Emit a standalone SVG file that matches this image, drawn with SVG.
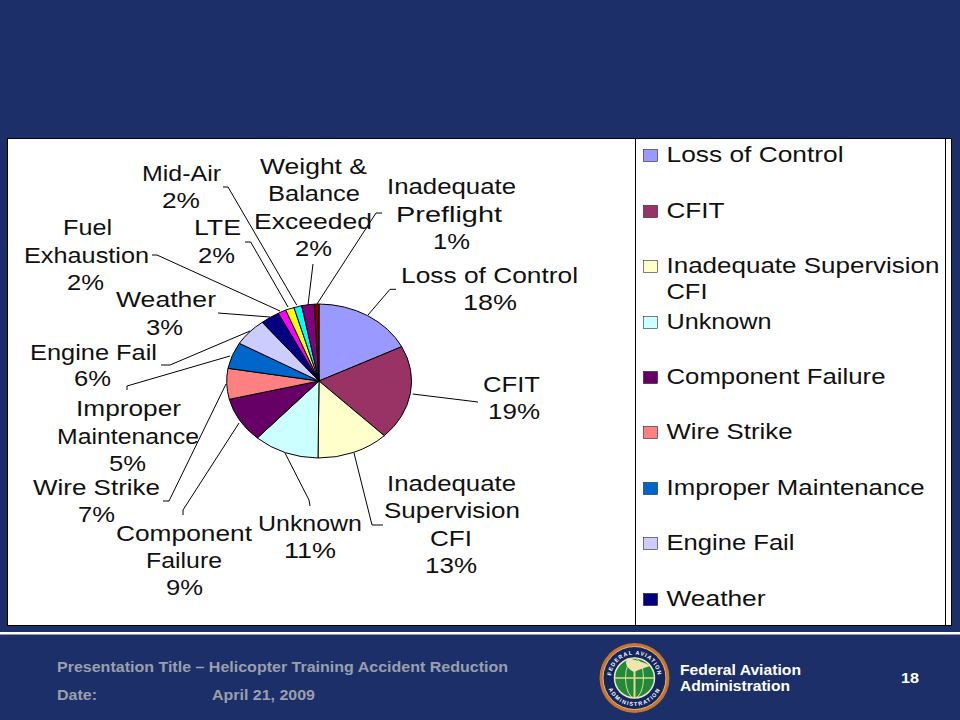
<svg xmlns="http://www.w3.org/2000/svg" width="960" height="720" viewBox="0 0 960 720">
<style>
.t{font-family:"Liberation Sans",Arial,sans-serif;font-size:22px;fill:#111}
.s{stroke:#000;stroke-width:1}
.l{fill:none;stroke:#000;stroke-width:1}
.f{font-family:"Liberation Sans",Arial,sans-serif;font-size:15px;font-weight:bold;fill:#9a9fae}
.w{font-family:"Liberation Sans",Arial,sans-serif;font-size:15px;font-weight:bold;fill:#fff}
.e{font-family:"Liberation Sans",Arial,sans-serif;font-size:5.500px;font-weight:bold;fill:#fff;text-anchor:middle}
</style>
<defs>
<path id="arcTop" d="M611 678 A23.500 23.500 0 0 1 658 678"/>
<path id="arcBot" d="M606.500 678 A28 28 0 0 0 662.500 678"/>
</defs>
<rect width="960" height="720" fill="#1c2f68"/>
<g id="chart-frame">
<rect x="7.500" y="138.500" width="944" height="487" fill="#fff" stroke="#000"/>
<line x1="635.500" y1="138" x2="635.500" y2="626" stroke="#000"/>
<line x1="945.500" y1="138" x2="945.500" y2="626" stroke="#000"/>
</g>
<g id="pie">
<path class="s" fill="#9999ff" d="M319 381V304A93 77 0 0 1 401.700 346.700Z"/>
<path class="s" fill="#993366" d="M319 381L401.700 346.700A93 77 0 0 1 384.300 435.700Z"/>
<path class="s" fill="#ffffcc" d="M319 381L384.300 435.700A93 77 0 0 1 318 458Z"/>
<path class="s" fill="#ccffff" d="M319 381L318 458A93 77 0 0 1 257.300 438Z"/>
<path class="s" fill="#660066" d="M319 381L257.300 438A93 77 0 0 1 229.300 399.300Z"/>
<path class="s" fill="#ff8080" d="M319 381L229.300 399.300A93 77 0 0 1 228 368.300Z"/>
<path class="s" fill="#0066cc" d="M319 381L228 368.300A93 77 0 0 1 239.300 343.300Z"/>
<path class="s" fill="#ccccff" d="M319 381L239.300 343.300A93 77 0 0 1 262.300 322.300Z"/>
<path class="s" fill="#000080" d="M319 381L262.300 322.300A93 77 0 0 1 278.300 313.300Z"/>
<path class="s" fill="#ff00ff" d="M319 381L278.300 313.300A93 77 0 0 1 285.700 310Z"/>
<path class="s" fill="#ffff00" d="M319 381L285.700 310A93 77 0 0 1 294 307.700Z"/>
<path class="s" fill="#00ffff" d="M319 381L294 307.700A93 77 0 0 1 301.700 305.700Z"/>
<path class="s" fill="#800080" d="M319 381L301.700 305.700A93 77 0 0 1 314.300 304.200Z"/>
<path class="s" fill="#800000" d="M319 381L314.300 304.200A93 77 0 0 1 319 304Z"/>
</g>
<g id="connectors">
<polyline class="l" points="223,187 228,187 296.700,305"/>
<polyline class="l" points="245,242 250.700,242 288,307"/>
<polyline class="l" points="152,255 157,255 280,311"/>
<polyline class="l" points="218,313 270,317"/>
<polyline class="l" points="161,365 170,365 250,331"/>
<polyline class="l" points="127,390 127,386 230,356"/>
<polyline class="l" points="163,501 169,501 226,384"/>
<polyline class="l" points="183,515 183,510 239,423"/>
<polyline class="l" points="310,506 309,500 285,453"/>
<polyline class="l" points="383,525 372,525 354,453"/>
<polyline class="l" points="478,402 412.700,394"/>
<polyline class="l" points="368,315 390,289.300 396,289.300"/>
<polyline class="l" points="382,213 376,213 317,304"/>
<polyline class="l" points="313,264 308,305"/>
</g>
<g id="labels">
<text class="t" x="142" y="180.500" textLength="79" lengthAdjust="spacingAndGlyphs">Mid-Air</text>
<text class="t" x="162" y="207.500" textLength="38" lengthAdjust="spacingAndGlyphs">2%</text>
<text class="t" x="260" y="173.500" textLength="107" lengthAdjust="spacingAndGlyphs">Weight &amp;</text>
<text class="t" x="268" y="200.500" textLength="92" lengthAdjust="spacingAndGlyphs">Balance</text>
<text class="t" x="254" y="228.500" textLength="118" lengthAdjust="spacingAndGlyphs">Exceeded</text>
<text class="t" x="295" y="255.500" textLength="37" lengthAdjust="spacingAndGlyphs">2%</text>
<text class="t" x="387" y="193.500" textLength="129" lengthAdjust="spacingAndGlyphs">Inadequate</text>
<text class="t" x="396" y="221.500" textLength="106" lengthAdjust="spacingAndGlyphs">Preflight</text>
<text class="t" x="433" y="248.500" textLength="37" lengthAdjust="spacingAndGlyphs">1%</text>
<text class="t" x="401" y="282.500" textLength="177" lengthAdjust="spacingAndGlyphs">Loss of Control</text>
<text class="t" x="463" y="309.500" textLength="54" lengthAdjust="spacingAndGlyphs">18%</text>
<text class="t" x="483" y="391.500" textLength="57" lengthAdjust="spacingAndGlyphs">CFIT</text>
<text class="t" x="488" y="418.500" textLength="52" lengthAdjust="spacingAndGlyphs">19%</text>
<text class="t" x="387" y="490.500" textLength="129" lengthAdjust="spacingAndGlyphs">Inadequate</text>
<text class="t" x="384" y="517.500" textLength="136" lengthAdjust="spacingAndGlyphs">Supervision</text>
<text class="t" x="430" y="545.500" textLength="42" lengthAdjust="spacingAndGlyphs">CFI</text>
<text class="t" x="425" y="572.500" textLength="52" lengthAdjust="spacingAndGlyphs">13%</text>
<text class="t" x="258" y="530.500" textLength="104" lengthAdjust="spacingAndGlyphs">Unknown</text>
<text class="t" x="284" y="557.500" textLength="52" lengthAdjust="spacingAndGlyphs">11%</text>
<text class="t" x="116" y="540.500" textLength="136" lengthAdjust="spacingAndGlyphs">Component</text>
<text class="t" x="146" y="567.500" textLength="76" lengthAdjust="spacingAndGlyphs">Failure</text>
<text class="t" x="166" y="594.500" textLength="37" lengthAdjust="spacingAndGlyphs">9%</text>
<text class="t" x="33" y="494.500" textLength="127" lengthAdjust="spacingAndGlyphs">Wire Strike</text>
<text class="t" x="78" y="521.500" textLength="37" lengthAdjust="spacingAndGlyphs">7%</text>
<text class="t" x="76" y="415.500" textLength="105" lengthAdjust="spacingAndGlyphs">Improper</text>
<text class="t" x="57" y="443.500" textLength="142" lengthAdjust="spacingAndGlyphs">Maintenance</text>
<text class="t" x="109" y="470.500" textLength="37" lengthAdjust="spacingAndGlyphs">5%</text>
<text class="t" x="30" y="359.500" textLength="127" lengthAdjust="spacingAndGlyphs">Engine Fail</text>
<text class="t" x="74" y="385.500" textLength="37" lengthAdjust="spacingAndGlyphs">6%</text>
<text class="t" x="116" y="306.500" textLength="100" lengthAdjust="spacingAndGlyphs">Weather</text>
<text class="t" x="146" y="334.500" textLength="37" lengthAdjust="spacingAndGlyphs">3%</text>
<text class="t" x="63" y="234.500" textLength="49" lengthAdjust="spacingAndGlyphs">Fuel</text>
<text class="t" x="24" y="262.500" textLength="125" lengthAdjust="spacingAndGlyphs">Exhaustion</text>
<text class="t" x="67" y="289.500" textLength="37" lengthAdjust="spacingAndGlyphs">2%</text>
<text class="t" x="194" y="234.500" textLength="47" lengthAdjust="spacingAndGlyphs">LTE</text>
<text class="t" x="198" y="262.500" textLength="37" lengthAdjust="spacingAndGlyphs">2%</text>
</g>
<g id="legend">
<rect x="643.500" y="149.500" width="14" height="12" fill="#9999ff" stroke="#000" stroke-width=".5"/>
<text class="t" x="666.500" y="161.500" textLength="177" lengthAdjust="spacingAndGlyphs">Loss of Control</text>
<rect x="643.500" y="205.500" width="14" height="12" fill="#993366" stroke="#000" stroke-width=".5"/>
<text class="t" x="666.500" y="217.500" textLength="58" lengthAdjust="spacingAndGlyphs">CFIT</text>
<rect x="643.500" y="260.500" width="14" height="12" fill="#ffffcc" stroke="#000" stroke-width=".5"/>
<text class="t" x="666.500" y="272.500" textLength="273" lengthAdjust="spacingAndGlyphs">Inadequate Supervision</text>
<text class="t" x="666.500" y="298.500" textLength="41" lengthAdjust="spacingAndGlyphs">CFI</text>
<rect x="643.500" y="316.500" width="14" height="12" fill="#ccffff" stroke="#000" stroke-width=".5"/>
<text class="t" x="666.500" y="328.500" textLength="105" lengthAdjust="spacingAndGlyphs">Unknown</text>
<rect x="643.500" y="371.500" width="14" height="12" fill="#660066" stroke="#000" stroke-width=".5"/>
<text class="t" x="666.500" y="383.500" textLength="219" lengthAdjust="spacingAndGlyphs">Component Failure</text>
<rect x="643.500" y="426.500" width="14" height="12" fill="#ff8080" stroke="#000" stroke-width=".5"/>
<text class="t" x="666.500" y="438.500" textLength="126" lengthAdjust="spacingAndGlyphs">Wire Strike</text>
<rect x="643.500" y="482.500" width="14" height="12" fill="#0066cc" stroke="#000" stroke-width=".5"/>
<text class="t" x="666.500" y="494.500" textLength="258" lengthAdjust="spacingAndGlyphs">Improper Maintenance</text>
<rect x="643.500" y="537.500" width="14" height="12" fill="#ccccff" stroke="#000" stroke-width=".5"/>
<text class="t" x="666.500" y="549.500" textLength="128" lengthAdjust="spacingAndGlyphs">Engine Fail</text>
<rect x="643.500" y="593.500" width="14" height="12" fill="#000080" stroke="#000" stroke-width=".5"/>
<text class="t" x="666.500" y="605.500" textLength="99" lengthAdjust="spacingAndGlyphs">Weather</text>
</g>
<g id="footer">
<rect x="0" y="632" width="960" height="2.500" fill="#fff"/>
<text class="f" x="57" y="672" textLength="451" lengthAdjust="spacingAndGlyphs">Presentation Title – Helicopter Training Accident Reduction</text>
<text class="f" x="57" y="700" textLength="40" lengthAdjust="spacingAndGlyphs">Date:</text>
<text class="f" x="212" y="700" textLength="103" lengthAdjust="spacingAndGlyphs">April 21, 2009</text>
<text class="w" x="680" y="675" textLength="121" lengthAdjust="spacingAndGlyphs">Federal Aviation</text>
<text class="w" x="680" y="691" textLength="110" lengthAdjust="spacingAndGlyphs">Administration</text>
<text class="w" x="901" y="683" textLength="18" lengthAdjust="spacingAndGlyphs">18</text>
</g>
<g id="seal">
<circle cx="634.500" cy="678" r="35" fill="#c8742c"/>
<circle cx="634.500" cy="678" r="31.500" fill="#14265e" stroke="#e8b878" stroke-width="1"/>
<circle cx="634.500" cy="678" r="20" fill="#1f8a3c" stroke="#f0e6c0" stroke-width="1.500"/>
<ellipse cx="634.500" cy="678" rx="9" ry="20" fill="none" stroke="#e9d98a" stroke-width="1"/>
<line x1="614.500" y1="678" x2="654.500" y2="678" stroke="#e9d98a" stroke-width="1.500"/>
<line x1="634.500" y1="668" x2="634.500" y2="698" stroke="#e9d98a" stroke-width="2"/>
<path d="M634 672C626 668 624 662 628 658C634 660 645 662 650 666C644 668 638 670 634 672Z" fill="#efe3b0"/>
<text class="e" letter-spacing="1"><textPath href="#arcTop" startOffset="50%">FEDERAL AVIATION</textPath></text>
<text class="e" letter-spacing="1.300"><textPath href="#arcBot" startOffset="50%">ADMINISTRATION</textPath></text>
</g>
</svg>
